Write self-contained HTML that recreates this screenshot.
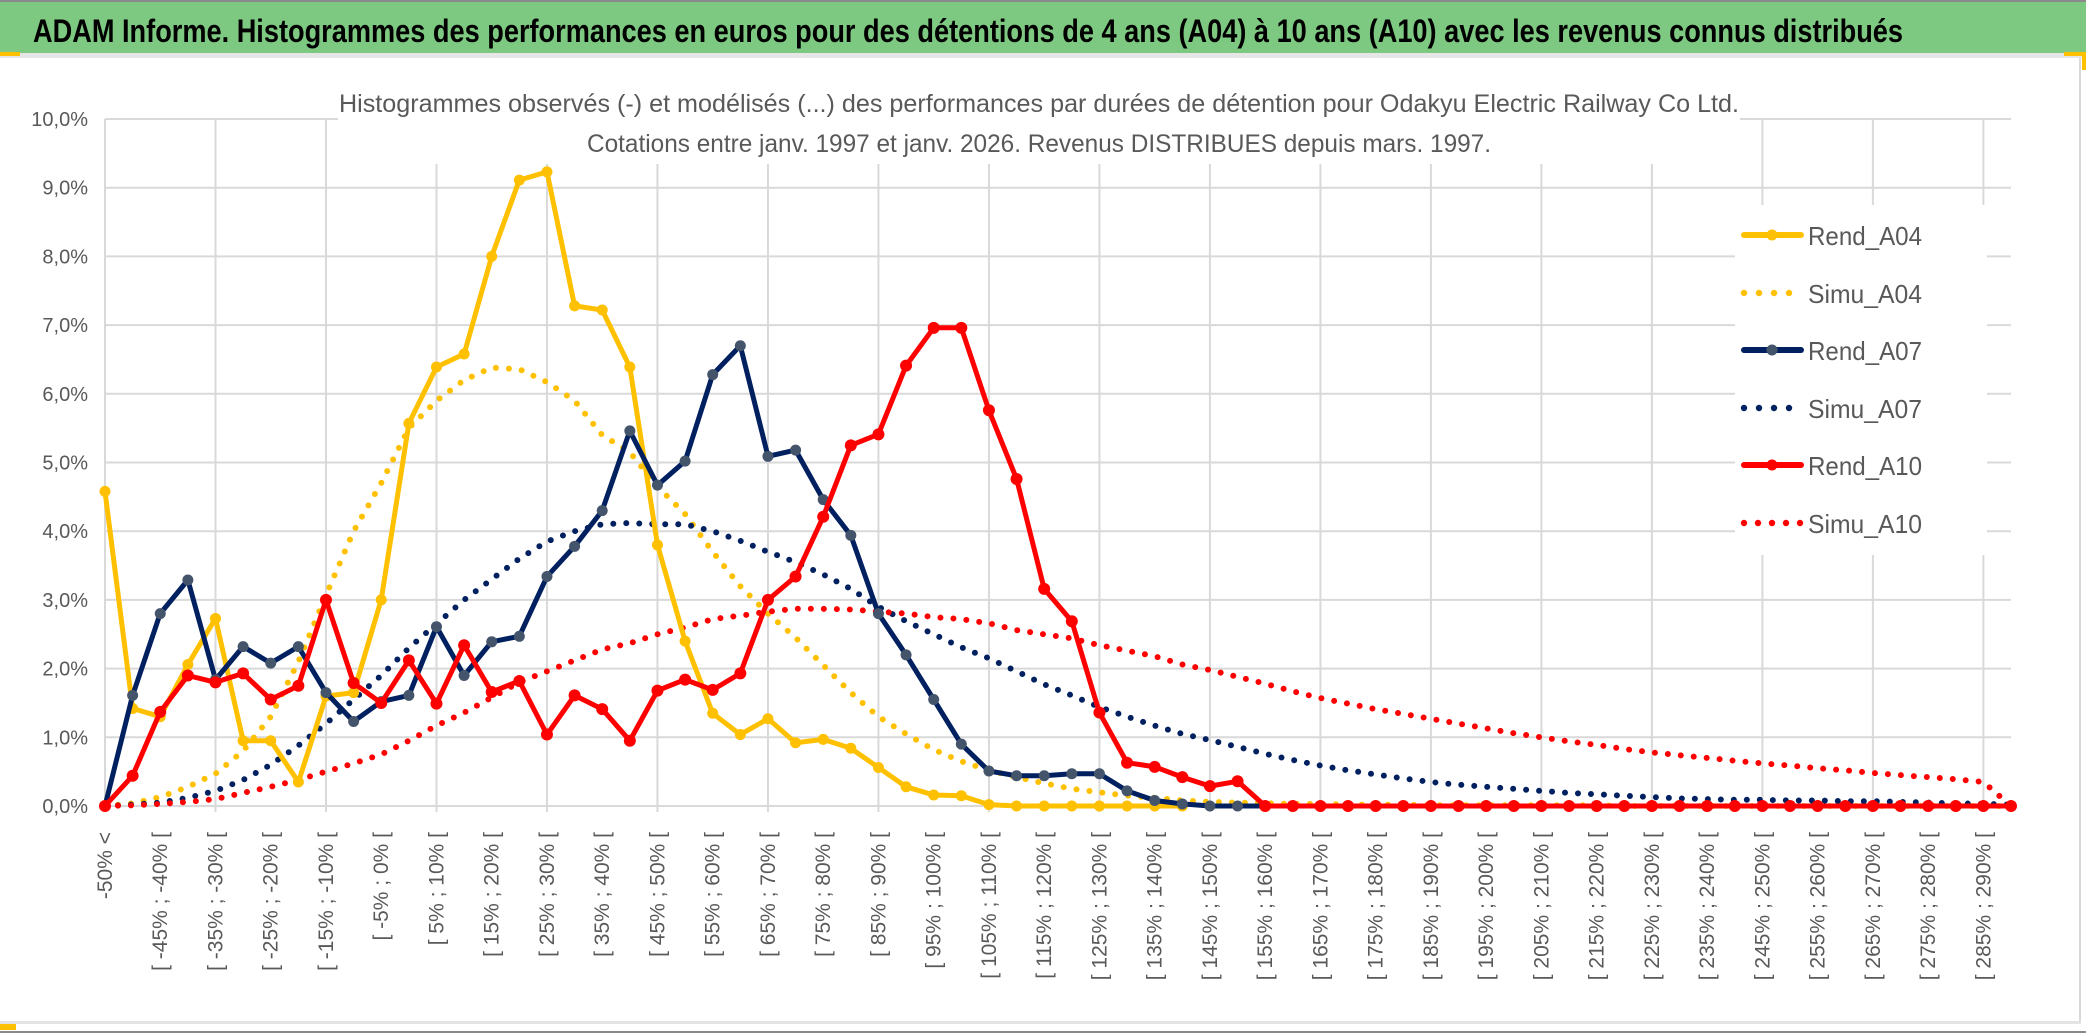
<!DOCTYPE html>
<html><head><meta charset="utf-8"><style>
html,body{margin:0;padding:0;background:#fff;}
svg{display:block;font-family:"Liberation Sans",sans-serif;}
</style></head><body>
<svg id="chart" width="2086" height="1033" viewBox="0 0 2086 1033" xmlns="http://www.w3.org/2000/svg">
<rect x="0" y="0" width="2086" height="1033" fill="#fff"/>
<rect x="0" y="2" width="2086" height="51" fill="#7EC981"/>
<rect x="0" y="0" width="2086" height="2" fill="#8a8a8a"/>
<rect x="0" y="53" width="2086" height="5" fill="#e6e6e6"/>
<rect x="0" y="52" width="20" height="4" fill="#FFC000"/>
<rect x="2064" y="52" width="22" height="4" fill="#FFC000"/>
<rect x="2082" y="52" width="4" height="18" fill="#FFC000"/>
<text x="33" y="42" font-size="32" font-weight="bold" fill="#000" textLength="1870" lengthAdjust="spacingAndGlyphs">ADAM Informe. Histogrammes des performances en euros pour des détentions de 4 ans (A04) à 10 ans (A10) avec les revenus connus distribués</text>
<rect x="2079" y="58" width="2" height="966" fill="#d9d9d9"/>
<rect x="0" y="1021" width="2081" height="3" fill="#e3e3e3"/>
<rect x="0" y="1031" width="2086" height="2" fill="#8a8a8a"/>
<rect x="0" y="1024" width="16" height="6" fill="#FFC000"/>
<rect x="2064" y="968" width="16" height="62" fill="#FFC000" opacity="0"/>
<g id="grid"></g>
<rect x="338" y="60" width="1402" height="104" fill="#fff"/>
<text x="1039" y="112" font-size="25" fill="#595959" text-anchor="middle" textLength="1400" lengthAdjust="spacingAndGlyphs">Histogrammes observés (-) et modélisés (...) des performances par durées de détention pour Odakyu Electric Railway Co Ltd.</text>
<text x="1039" y="152" font-size="25" fill="#595959" text-anchor="middle" textLength="904" lengthAdjust="spacingAndGlyphs">Cotations entre janv. 1997 et janv. 2026. Revenus DISTRIBUES depuis mars. 1997.</text>
<g id="yaxis"></g>
<g id="xaxis"></g>
<g id="series"></g>
<g id="legend"></g>
</svg>
<script>
const simuA04 = [0,0.04,0.13,0.28,0.47,0.8,1.3,2.1,3.07,4.0,4.7,5.5,5.9,6.2,6.38,6.36,6.17,5.9,5.4,5.15,4.65,4.25,3.7,3.2,2.8,2.45,2.05,1.65,1.3,1.05,0.82,0.65,0.52,0.42,0.33,0.25,0.2,0.15,0.12,0.08,0.06,0.05,0.04,0.03,0.03,0.02,0.02,0.02,0.01,0.01,0.01,0.01,0.01,0.01,0.01,0,0,0,0,0,0,0,0,0,0,0,0,0,0,0];
const simuA07 = [0,0.02,0.05,0.12,0.22,0.38,0.6,0.88,1.2,1.55,1.9,2.3,2.65,3.0,3.3,3.6,3.85,4.0,4.1,4.12,4.1,4.1,4.0,3.86,3.7,3.55,3.37,3.16,2.9,2.69,2.5,2.31,2.15,1.96,1.77,1.61,1.44,1.3,1.17,1.05,0.96,0.86,0.76,0.67,0.59,0.52,0.46,0.40,0.35,0.31,0.28,0.25,0.22,0.19,0.17,0.15,0.13,0.11,0.10,0.09,0.09,0.08,0.08,0.07,0.07,0.06,0.05,0.04,0.03,0.02];
const simuA10 = [0,0.01,0.03,0.06,0.1,0.19,0.28,0.38,0.5,0.62,0.75,0.95,1.17,1.36,1.58,1.8,1.96,2.12,2.28,2.37,2.5,2.6,2.72,2.77,2.83,2.87,2.87,2.86,2.83,2.8,2.75,2.72,2.66,2.56,2.5,2.44,2.34,2.26,2.18,2.06,1.98,1.88,1.78,1.67,1.57,1.49,1.41,1.34,1.27,1.2,1.13,1.06,1.0,0.94,0.89,0.83,0.78,0.74,0.7,0.66,0.62,0.59,0.55,0.52,0.48,0.45,0.42,0.39,0.35,0];
const rendA04 = [4.58,1.42,1.3,2.06,2.73,0.95,0.95,0.35,1.6,1.65,3.0,5.57,6.39,6.58,8.0,9.11,9.23,7.28,7.22,6.39,3.8,2.4,1.35,1.04,1.27,0.92,0.97,0.84,0.56,0.28,0.16,0.15,0.02,0,0,0,0,0,0,0];
const rendA07 = [0,1.61,2.8,3.29,1.84,2.32,2.08,2.32,1.65,1.23,1.52,1.61,2.61,1.9,2.39,2.47,3.34,3.78,4.30,5.46,4.67,5.02,6.28,6.7,5.09,5.18,4.46,3.94,2.8,2.2,1.55,0.9,0.51,0.44,0.44,0.47,0.47,0.22,0.08,0.03,0,0,0];
const rendA10 = [0,0.44,1.37,1.9,1.8,1.93,1.55,1.75,3.0,1.79,1.5,2.12,1.49,2.34,1.66,1.82,1.04,1.61,1.41,0.95,1.68,1.84,1.69,1.93,3.0,3.34,4.21,5.25,5.41,6.41,6.96,6.96,5.76,4.76,3.16,2.69,1.36,0.63,0.57,0.42,0.29,0.36,0,0,0,0,0,0,0,0,0,0,0,0,0,0,0,0,0,0,0,0,0,0,0,0,0,0,0,0];
const yTicks = [0,1,2,3,4,5,6,7,8,9,10];
const legendNames = ["Rend_A04","Simu_A04","Rend_A07","Simu_A07","Rend_A10","Simu_A10"];

const NS = "http://www.w3.org/2000/svg";
const nCat = 70;
const X0 = 105, X1 = 2011, Y0 = 806, Y10 = 119;
function xs(i){ return X0 + i*(X1-X0)/(nCat-1); }
function ys(v){ return Y0 - v*(Y0-Y10)/10; }
function mk(tag, attrs, parent){ const e=document.createElementNS(NS,tag); for(const k in attrs) e.setAttribute(k,attrs[k]); parent.appendChild(e); return e; }
function catLabel(i){ if(i===0) return "-50% <"; const a=-55+5*i; return "[ "+a+"% ; "+(a+5)+"% ["; }

const grid=document.getElementById('grid');
for(const t of yTicks){
  const l=mk('line',{x1:X0,x2:X1,y1:ys(t),y2:ys(t),stroke:'#d9d9d9','stroke-width':2},grid);
  
  
}
for(let i=0;i<nCat;i+=4){
  const l=mk('line',{x1:xs(i),x2:xs(i),y1:ys(10),y2:Y0+6,stroke:'#d9d9d9','stroke-width':2},grid);
  
  
}
const ya=document.getElementById('yaxis');
for(const t of yTicks){
  const tx=mk('text',{x:88,y:ys(t)+7,'font-size':20,fill:'#595959','text-anchor':'end'},ya);
  tx.textContent=t.toFixed(1).replace('.',',')+'%';
  
  
}
const xa=document.getElementById('xaxis');
for(let i=0;i<nCat;i+=2){
  const tx=mk('text',{x:0,y:0,'font-size':21,fill:'#595959','text-anchor':'end',transform:'translate('+(xs(i)+7)+',832) rotate(-90)'},xa);
  tx.textContent=catLabel(i);
  
  
}
const sg=document.getElementById('series');
function pts(arr){ return arr.map((v,i)=>xs(i).toFixed(1)+','+ys(v).toFixed(1)).join(' '); }
function simu(arr,color,name){
  const p=mk('polyline',{points:pts(arr),fill:'none',stroke:color,'stroke-width':6,'stroke-linecap':'round','stroke-dasharray':'0 13'},sg);
  
  
}
function rend(arr,color,mcolor,name,r){
  const g=mk('g',{},sg);
  
  
  mk('polyline',{points:pts(arr),fill:'none',stroke:color,'stroke-width':5,'stroke-linejoin':'round'},g);
  arr.forEach((v,i)=>{
    const c=mk('circle',{cx:xs(i),cy:ys(v),r:r,fill:mcolor},g);
    
    
  });
}
simu(simuA04,'#FFC000','simu-a04-line');
simu(simuA07,'#002060','simu-a07-line');
simu(simuA10,'#FF0000','simu-a10-line');
rend(rendA04,'#FFC000','#FFC000','rend-a04-line',5.5);
rend(rendA07,'#002060','#44546A','rend-a07-line',5.5);
rend(rendA10,'#FF0000','#FF0000','rend-a10-line',6);

const lg=document.getElementById('legend');
mk('rect',{x:1735,y:205,width:252,height:350,fill:'#fff'},lg);
const lgColors=['#FFC000','#FFC000','#002060','#002060','#FF0000','#FF0000'];
const lgY=[235,293,350,408,465,523];
legendNames.forEach((n,k)=>{
  const g=mk('g',{},lg);
  
  
  const y=lgY[k], c=lgColors[k];
  if(n.startsWith('Rend')){
    mk('line',{x1:1744,x2:1801,y1:y,y2:y,stroke:c,'stroke-width':6,'stroke-linecap':'round'},g);
    mk('circle',{cx:1772,cy:y,r:5.5,fill:(k===2?'#44546A':c)},g);
  } else {
    const nd = k===5?5:4, step = k===5?14:15;
    for(let d=0;d<nd;d++) mk('circle',{cx:1744+d*step,cy:y,r:3.2,fill:c},g);
  }
  const t=mk('text',{x:1808,y:y+10,'font-size':26,fill:'#595959',textLength:114,lengthAdjust:'spacingAndGlyphs'},g);
  t.textContent=n;
});
</script>
</body></html>
